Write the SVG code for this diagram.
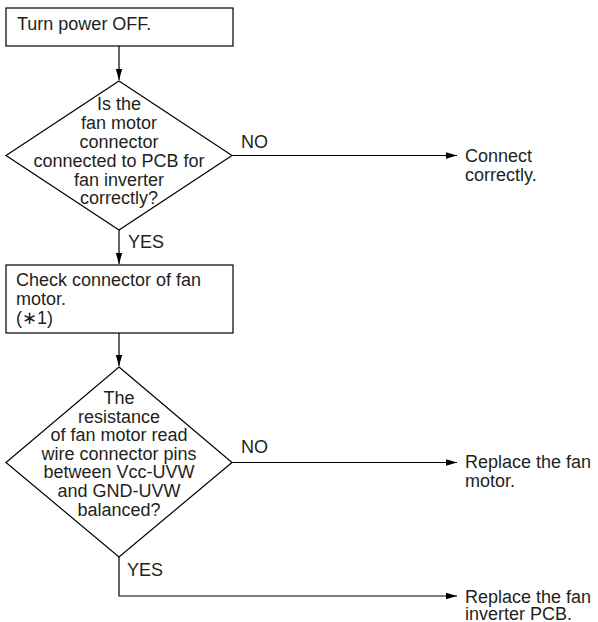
<svg xmlns="http://www.w3.org/2000/svg" width="598" height="622" viewBox="0 0 598 622">
<style>
  .shape { fill: #fff; stroke: #000; stroke-width: 1.2; }
  .line { fill: none; stroke: #000; stroke-width: 1.2; }
  text { font-family: "Liberation Sans", Arial, sans-serif; font-size: 18px; fill: #231f20; }
  .c { text-anchor: middle; }
</style>
<defs>
  <marker id="arr" markerWidth="12" markerHeight="8" refX="11" refY="4" orient="auto" markerUnits="userSpaceOnUse">
    <path d="M0,0.8 L11,4 L0,7.2 Z" fill="#000"/>
  </marker>
</defs>
<rect width="598" height="622" fill="#fff"/>
<g id="connectors">
  <line class="line" x1="119" y1="46" x2="119" y2="80" marker-end="url(#arr)"/>
  <line class="line" x1="232" y1="155.5" x2="457" y2="155.5" marker-end="url(#arr)"/>
  <line class="line" x1="119" y1="230" x2="119" y2="264" marker-end="url(#arr)"/>
  <line class="line" x1="119" y1="333" x2="119" y2="366" marker-end="url(#arr)"/>
  <line class="line" x1="232" y1="462.5" x2="457" y2="462.5" marker-end="url(#arr)"/>
  <polyline class="line" points="119,557 119,596 457,596" marker-end="url(#arr)"/>
  <text x="241" y="148">NO</text>
  <text x="128" y="248">YES</text>
  <text x="241" y="453">NO</text>
  <text x="127" y="576">YES</text>
</g>
<g id="n1">
  <rect class="shape" x="6" y="8" width="227" height="38"/>
  <text x="17" y="30">Turn power OFF.</text>
</g>
<g id="d1">
  <polygon class="shape" points="119,81 232,155.5 119,230 6,155.5"/>
  <text class="c" x="119" y="110">Is the</text>
  <text class="c" x="119" y="129">fan motor</text>
  <text class="c" x="119" y="148">connector</text>
  <text class="c" x="119" y="167">connected to PCB for</text>
  <text class="c" x="119" y="186">fan inverter</text>
  <text class="c" x="119" y="204">correctly?</text>
</g>
<g id="n2">
  <text x="465" y="162">Connect</text>
  <text x="465" y="181">correctly.</text>
</g>
<g id="n3">
  <rect class="shape" x="6" y="265" width="227" height="68"/>
  <text x="16" y="286">Check connector of fan</text>
  <text x="16" y="305">motor.</text>
  <text x="16" y="324">(∗1)</text>
</g>
<g id="d2">
  <polygon class="shape" points="119,367 232,462.5 119,557 6,462.5"/>
  <text class="c" x="119" y="404">The</text>
  <text class="c" x="119" y="422.5">resistance</text>
  <text class="c" x="119" y="441">of fan motor read</text>
  <text class="c" x="119" y="459.5">wire connector pins</text>
  <text class="c" x="119" y="478">between Vcc-UVW</text>
  <text class="c" x="119" y="497">and GND-UVW</text>
  <text class="c" x="119" y="516">balanced?</text>
</g>
<g id="n4">
  <text x="465" y="468">Replace the fan</text>
  <text x="465" y="487">motor.</text>
</g>
<g id="n5">
  <text x="465" y="603">Replace the fan</text>
  <text x="465" y="620">inverter PCB.</text>
</g>
</svg>
